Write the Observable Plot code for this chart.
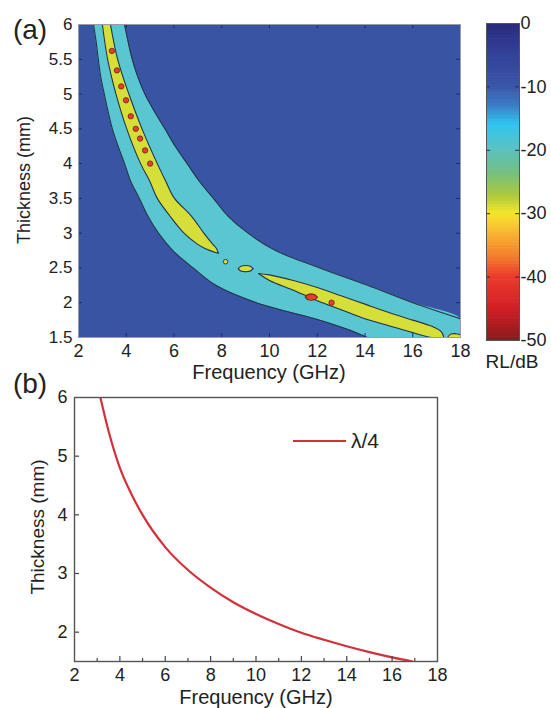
<!DOCTYPE html>
<html><head><meta charset="utf-8">
<script src="https://cdn.jsdelivr.net/npm/d3@7"></script>
<script src="https://cdn.jsdelivr.net/npm/@observablehq/plot@0.6"></script>
<style>
html,body{margin:0;padding:0;background:#fff;}
#root{position:relative;width:551px;height:708px;overflow:hidden;font-family:"Liberation Sans",Arial,sans-serif;color:#222;}
.abs{position:absolute;}
.lbl{position:absolute;transform:translate(-50%,-50%);white-space:nowrap;line-height:1;}
</style></head><body><div id="root"></div>
<script>
// ---------- tick labels ----------
const xTicks = [2, 4, 6, 8, 10, 12, 14, 16, 18];
const yTicksA = [1.5, 2, 2.5, 3, 3.5, 4, 4.5, 5, 5.5, 6];
const yTicksB = [2, 3, 4, 5, 6];
const xMinorB = [3, 5, 7, 9, 11, 13, 15, 17];
const cbTicks = [0, -10, -20, -30, -40, -50];

// ---------- (a) RL contour regions ----------
// -10 dB contour band: thickness -> left / right frequency
const cyanT     = [6, 5.75, 5.5, 5.25, 5, 4.75, 4.5, 4.25, 4, 3.75, 3.5, 3.25, 3, 2.75, 2.5, 2.25, 2, 1.77, 1.625, 1.5];
const cyanLeft  = [2.63, 2.74, 2.83, 2.93, 3.08, 3.24, 3.42, 3.66, 3.93, 4.18, 4.55, 4.90, 5.35, 5.95, 6.80, 7.75, 9.45, 11.9, 13.2, 14.1];
const cyanRight = [3.93, 4.08, 4.25, 4.48, 4.78, 5.18, 5.62, 6.05, 6.55, 7.05, 7.65, 8.25, 9.1, 10.25, 12.1, 14.1, 16.0, 18, 18, 18];
// -20 dB contour, upper branch: thickness -> left / right frequency
const yelT     = [6, 5.5, 5, 4.5, 4, 3.75, 3.5, 3.25, 3, 2.85, 2.78, 2.71];
const yelLeft  = [3.0, 3.22, 3.57, 4.02, 4.60, 4.98, 5.30, 5.82, 6.42, 6.95, 7.3, 7.86];
const yelRight = [3.34, 3.64, 4.11, 4.66, 5.30, 5.65, 6.02, 6.72, 7.25, 7.6, 7.78, 7.86];
// -20 dB contour, lower branch: frequency -> top / bottom thickness
const yel2F   = [9.54, 10, 11, 12, 13, 14, 15, 16, 16.8, 17.2, 17.3];
const yel2Top = [2.42, 2.40, 2.32, 2.22, 2.10, 1.98, 1.86, 1.75, 1.66, 1.58, 1.5];
const yel2Bot = [2.42, 2.32, 2.18, 2.03, 1.90, 1.77, 1.67, 1.57, 1.5, 1.5, 1.5];
// corner patch near 18 GHz
const yel3F   = [17.45, 17.6, 17.8, 18];
const yel3Top = [1.5, 1.55, 1.555, 1.54];
const yel3Bot = [1.5, 1.5, 1.5, 1.5];
// small -20 dB islands
const isl1F = [8.16], isl1T = [2.59];
const isl2F   = [8.69, 8.8, 9.0, 9.2, 9.31];
const isl2Top = [2.49, 2.525, 2.535, 2.525, 2.49];
const isl2Bot = [2.49, 2.455, 2.445, 2.455, 2.49];
// -40 dB islands
const redF = [3.40, 3.61, 3.79, 3.99, 4.19, 4.40, 4.58, 4.79, 5.0, 12.6];
const redT = [5.62, 5.34, 5.11, 4.91, 4.68, 4.50, 4.36, 4.19, 4.0, 2.0];
const red2F   = [11.5, 11.6, 11.75, 11.9, 12.0];
const red2Top = [2.08, 2.115, 2.125, 2.115, 2.08];
const red2Bot = [2.08, 2.045, 2.035, 2.045, 2.08];

// ---------- colour bar ----------
const cbStops  = [-50, -45, -40, -37, -33, -30, -27, -23, -20, -16, -13, -10, -5, 0];
const cbColors = ["#8a1a1c", "#d21f27", "#ec3b2c", "#f47a2c", "#f8b830", "#f4e52b", "#a9c83e", "#6dbf8c", "#5cc2c0", "#2ec6f0", "#3c7cc8", "#3a56a8", "#33419a", "#2a2b7a"];

// ---------- (b) quarter-wavelength curve ----------
const lamF = [3.14, 3.5, 4, 4.5, 5, 6, 7, 8, 9, 10, 11, 12, 13, 14, 15, 16, 16.9];
const lamT = [6.0, 5.43, 4.8, 4.36, 4.0, 3.45, 3.06, 2.76, 2.51, 2.31, 2.14, 1.99, 1.87, 1.76, 1.66, 1.57, 1.5];

// ---------- styles ----------
const FONT = "'Liberation Sans', Arial, sans-serif";
const BLUE = "#3a54a4", CYAN = "#5ac6d1", YEL = "#d6de3a", RED = "#e4402a";
const EDGE = "#22354a", NAVY = "#1d2a6a";
const lo = {stroke: EDGE, strokeWidth: 1.1, curve: "catmull-rom", clip: true};

const root = document.getElementById("root");
function place(el, left, top) {
  el.style.position = "absolute"; el.style.left = left + "px"; el.style.top = top + "px";
  root.appendChild(el);
}
function label(text, x, y, size, rotate) {
  const d = document.createElement("div");
  d.className = "lbl"; d.textContent = text;
  d.style.left = x + "px"; d.style.top = y + "px"; d.style.fontSize = size + "px";
  if (rotate) d.style.transform = "translate(-50%,-50%) rotate(-90deg)";
  root.appendChild(d);
}

// ---------- panel (a) ----------
const hA = 313, wA = 382;
const kR = cyanRight.indexOf(18);
const plotA = Plot.plot({
  width: 470, height: 365,
  marginLeft: 78, marginRight: 10, marginTop: 24, marginBottom: 28,
  x: {domain: [2, 18]}, y: {domain: [1.5, 6]},
  style: {fontFamily: FONT, fontSize: "17px", color: "#222", background: "transparent", overflow: "visible"},
  marks: [
    Plot.frame({fill: BLUE}),
    Plot.areaX(cyanT, {y: cyanT, x1: cyanLeft, x2: cyanRight, fill: CYAN, curve: "catmull-rom", clip: true}),
    Plot.line(cyanT, {x: cyanLeft, y: cyanT, ...lo}),
    Plot.line(cyanT.slice(0, kR + 1), {x: cyanRight.slice(0, kR + 1), y: cyanT.slice(0, kR + 1), ...lo}),
    Plot.areaX(yelT, {y: yelT, x1: yelLeft, x2: yelRight, fill: YEL, curve: "catmull-rom", clip: true}),
    Plot.line(yelT, {x: yelLeft, y: yelT, ...lo}),
    Plot.line(yelT, {x: yelRight, y: yelT, ...lo}),
    Plot.areaY(yel2F, {x: yel2F, y1: yel2Bot, y2: yel2Top, fill: YEL, curve: "catmull-rom", clip: true}),
    Plot.line(yel2F, {x: yel2F, y: yel2Top, ...lo}),
    Plot.line(yel2F, {x: yel2F, y: yel2Bot, ...lo}),
    Plot.areaY(yel3F, {x: yel3F, y1: yel3Bot, y2: yel3Top, fill: YEL, curve: "catmull-rom", clip: true}),
    Plot.line(yel3F, {x: yel3F, y: yel3Top, ...lo}),
    Plot.areaY(isl2F, {x: isl2F, y1: isl2Bot, y2: isl2Top, fill: YEL, curve: "catmull-rom"}),
    Plot.line(isl2F, {x: isl2F, y: isl2Top, ...lo}),
    Plot.line(isl2F, {x: isl2F, y: isl2Bot, ...lo}),
    Plot.dot(isl1F, {x: isl1F, y: isl1T, r: 2.3, fill: YEL, stroke: EDGE, strokeWidth: 0.9}),
    Plot.areaY(red2F, {x: red2F, y1: red2Bot, y2: red2Top, fill: RED, curve: "catmull-rom"}),
    Plot.line(red2F, {x: red2F, y: red2Top, ...lo, stroke: "#6e2418"}),
    Plot.line(red2F, {x: red2F, y: red2Bot, ...lo, stroke: "#6e2418"}),
    Plot.dot(redF, {x: redF, y: redT, r: 2.7, fill: RED, stroke: "#6e2418", strokeWidth: 0.8}),
    Plot.tickX(xTicks.slice(1, -1), {x: d => d, insetTop: hA - 4, stroke: NAVY}),
    Plot.tickX(xTicks.slice(1, -1), {x: d => d, insetBottom: hA - 4, stroke: NAVY}),
    Plot.tickY(yTicksA.slice(1, -1), {y: d => d, insetRight: wA - 4, stroke: NAVY}),
    Plot.tickY(yTicksA.slice(1, -1), {y: d => d, insetLeft: wA - 4, stroke: NAVY}),
    Plot.axisX({ticks: xTicks, tickSize: 0, tickPadding: 7, tickFormat: d => String(d), fontSize: 18}),
    Plot.axisY({ticks: yTicksA, tickSize: 0, tickPadding: 6, tickFormat: d => String(d)}),
    Plot.frame({stroke: "#9a9aa8"})
  ]
});
place(plotA, 0, 0);

// ---------- colour bar ----------
const cbSteps = d3.range(-50, 0, 0.5);
const plotCB = Plot.plot({
  width: 71, height: 365,
  marginLeft: 6, marginRight: 32, marginTop: 23, marginBottom: 25,
  x: {domain: [0, 1], axis: null}, y: {domain: [-50, 0]},
  color: {type: "linear", domain: cbStops, range: cbColors},
  style: {fontFamily: FONT, fontSize: "18px", color: "#222", background: "transparent", overflow: "visible"},
  marks: [
    Plot.rect(cbSteps, {x1: 0, x2: 1, y1: d => d, y2: d => Math.min(0, d + 0.6), fill: d => d + 0.25}),
    Plot.tickY(cbTicks.slice(1, -1), {y: d => d, insetRight: 29, stroke: "#2a2a55"}),
    Plot.tickY(cbTicks.slice(1, -1), {y: d => d, insetLeft: 29, stroke: "#2a2a55"}),
    Plot.axisY({anchor: "right", ticks: cbTicks, tickSize: 0, tickPadding: 1, tickFormat: d => String(d)}),
    Plot.frame({stroke: "#555"})
  ]
});
place(plotCB, 480, 0);

// ---------- panel (b) ----------
const hB = 264, wB = 363;
const plotB = Plot.plot({
  width: 551, height: 338,
  marginLeft: 74, marginRight: 114, marginTop: 27, marginBottom: 47,
  x: {domain: [2, 18]}, y: {domain: [1.5, 6]},
  style: {fontFamily: FONT, fontSize: "18px", color: "#222", background: "transparent", overflow: "visible"},
  marks: [
    Plot.line(lamF, {x: lamF, y: lamT, stroke: "#d3303a", strokeWidth: 2.2, curve: "monotone-x", clip: true}),
    Plot.tickX(xTicks.slice(1, -1), {x: d => d, insetTop: hB - 5, stroke: "#444", strokeWidth: 1.2}),
    Plot.tickX(xMinorB, {x: d => d, insetTop: hB - 3, stroke: "#444", strokeWidth: 1.2}),
    Plot.tickY(yTicksB.slice(0, -1), {y: d => d, insetRight: wB - 5, stroke: "#444", strokeWidth: 1.2}),
    Plot.axisX({ticks: xTicks, tickSize: 0, tickPadding: 7, tickFormat: d => String(d)}),
    Plot.axisY({ticks: yTicksB, tickSize: 0, tickPadding: 7, tickFormat: d => String(d)}),
    Plot.frame({stroke: "#555", strokeWidth: 1.4})
  ]
});
place(plotB, 0, 370);

// ---------- texts ----------
label("(a)", 30, 30, 28);
label("Thickness (mm)", 24, 180, 18, true);
label("Frequency (GHz)", 269, 372, 20);
label("RL/dB", 512, 361, 19);
label("(b)", 30, 384, 28);
label("Thickness (mm)", 37, 527, 19, true);
label("Frequency (GHz)", 256, 697, 20);

// legend of (b)
const leg = document.createElement("div");
leg.style.cssText = "position:absolute;left:293px;top:440px;width:53px;height:0;border-top:2px solid #d3303a;";
root.appendChild(leg);
const legT = document.createElement("div");
legT.textContent = "λ/4";
legT.style.cssText = "position:absolute;left:351px;top:430px;font-size:21px;line-height:1;";
root.appendChild(legT);
</script></body></html>
